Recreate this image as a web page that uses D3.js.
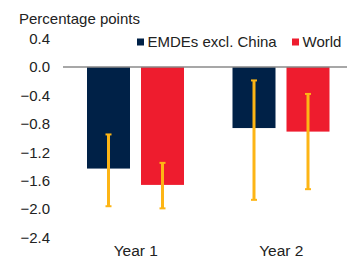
<!DOCTYPE html>
<html>
<head>
<meta charset="utf-8">
<script src="https://cdnjs.cloudflare.com/ajax/libs/d3/7.8.5/d3.min.js"></script>
<style>
  body { margin: 0; background: #fff; }
  svg text { font-family: "Liberation Sans", Arial, sans-serif; fill: #222; }
</style>
</head>
<body>
<div id="chart"></div>
<script>
var years = ["Year 1", "Year 2"];
var seriesNames = ["EMDEs excl. China", "World"];
var emdeValues = [-1.43, -0.86];
var worldValues = [-1.66, -0.91];
var emdeLow = [-1.96, -1.87];
var emdeHigh = [-0.95, -0.19];
var worldLow = [-1.99, -1.72];
var worldHigh = [-1.35, -0.38];
var yTicks = [0.4, 0.0, -0.4, -0.8, -1.2, -1.6, -2.0, -2.4];

var width = 347, height = 260;
var colors = d3.scaleOrdinal().domain(seriesNames).range(["#002147", "#EE1C2E"]);
var errColor = "#FDB515";

var rows = [];
years.forEach(function (yr, i) {
    rows.push({ year: yr, key: seriesNames[0], v: emdeValues[i], lo: emdeLow[i], hi: emdeHigh[i] });
    rows.push({ year: yr, key: seriesNames[1], v: worldValues[i], lo: worldLow[i], hi: worldHigh[i] });
});

var svg = d3.select("#chart").append("svg")
    .attr("width", width)
    .attr("height", height);

var y = d3.scaleLinear().domain([-2.4, 0.4]).range([237.5, 38.5]);
var x0 = d3.scaleBand().domain(years).range([63, 354]);
var x1 = d3.scaleBand().domain(seriesNames).range([24, 121]).paddingInner(0.2037);

// y tick labels (no axis line)
var axisY = svg.append("g")
    .attr("transform", "translate(56,0)")
    .call(d3.axisLeft(y).tickValues(yTicks).tickSize(0).tickPadding(6).tickFormat(d3.format(".1f")));
axisY.select(".domain").remove();
axisY.selectAll("text")
    .attr("font-size", "15px")
    .style("font-family", "'Liberation Sans', Arial, sans-serif")
    .attr("fill", "#222");

// bars
svg.append("g").selectAll("rect")
    .data(rows)
    .enter().append("rect")
    .attr("x", function (d) { return x0(d.year) + x1(d.key); })
    .attr("width", x1.bandwidth())
    .attr("y", function (d) { return y(Math.max(0, d.v)); })
    .attr("height", function (d) { return Math.abs(y(d.v) - y(0)); })
    .attr("fill", function (d) { return colors(d.key); });

// zero line
svg.append("line")
    .attr("x1", 63).attr("x2", width)
    .attr("y1", y(0)).attr("y2", y(0))
    .attr("stroke", "#8a8a8a")
    .attr("stroke-width", 1.5);

// error bars
var err = svg.append("g").selectAll("g")
    .data(rows)
    .enter().append("g")
    .attr("transform", function (d) { return "translate(" + (x0(d.year) + x1(d.key) + x1.bandwidth() / 2) + ",0)"; });
err.append("line")
    .attr("y1", function (d) { return y(d.hi); })
    .attr("y2", function (d) { return y(d.lo); })
    .attr("stroke", errColor)
    .attr("stroke-width", 3);
err.selectAll("rect.cap")
    .data(function (d) { return [d.hi, d.lo]; })
    .enter().append("rect")
    .attr("class", "cap")
    .attr("x", -3).attr("width", 6)
    .attr("y", function (v) { return y(v) - 1; })
    .attr("height", 2)
    .attr("fill", errColor);

// x labels
svg.append("g").selectAll("text")
    .data(years)
    .enter().append("text")
    .attr("x", function (d) { return x0(d) + x0.bandwidth() / 2; })
    .attr("y", 256)
    .attr("text-anchor", "middle")
    .attr("font-size", "15.5px")
    .text(function (d) { return d; });

// unit title
svg.append("text")
    .attr("x", 19).attr("y", 24)
    .attr("font-size", "15px")
    .text("Percentage points");

// legend
var legendX = [137, 292];
var leg = svg.append("g").selectAll("g")
    .data(seriesNames)
    .enter().append("g")
    .attr("transform", function (d, i) { return "translate(" + legendX[i] + ",0)"; });
leg.append("rect")
    .attr("x", 0).attr("y", 38.5)
    .attr("width", 7).attr("height", 7)
    .attr("fill", function (d) { return colors(d); });
leg.append("text")
    .attr("x", 10.5).attr("y", 46.5)
    .attr("font-size", "15px")
    .text(function (d) { return d; });
</script>
</body>
</html>
